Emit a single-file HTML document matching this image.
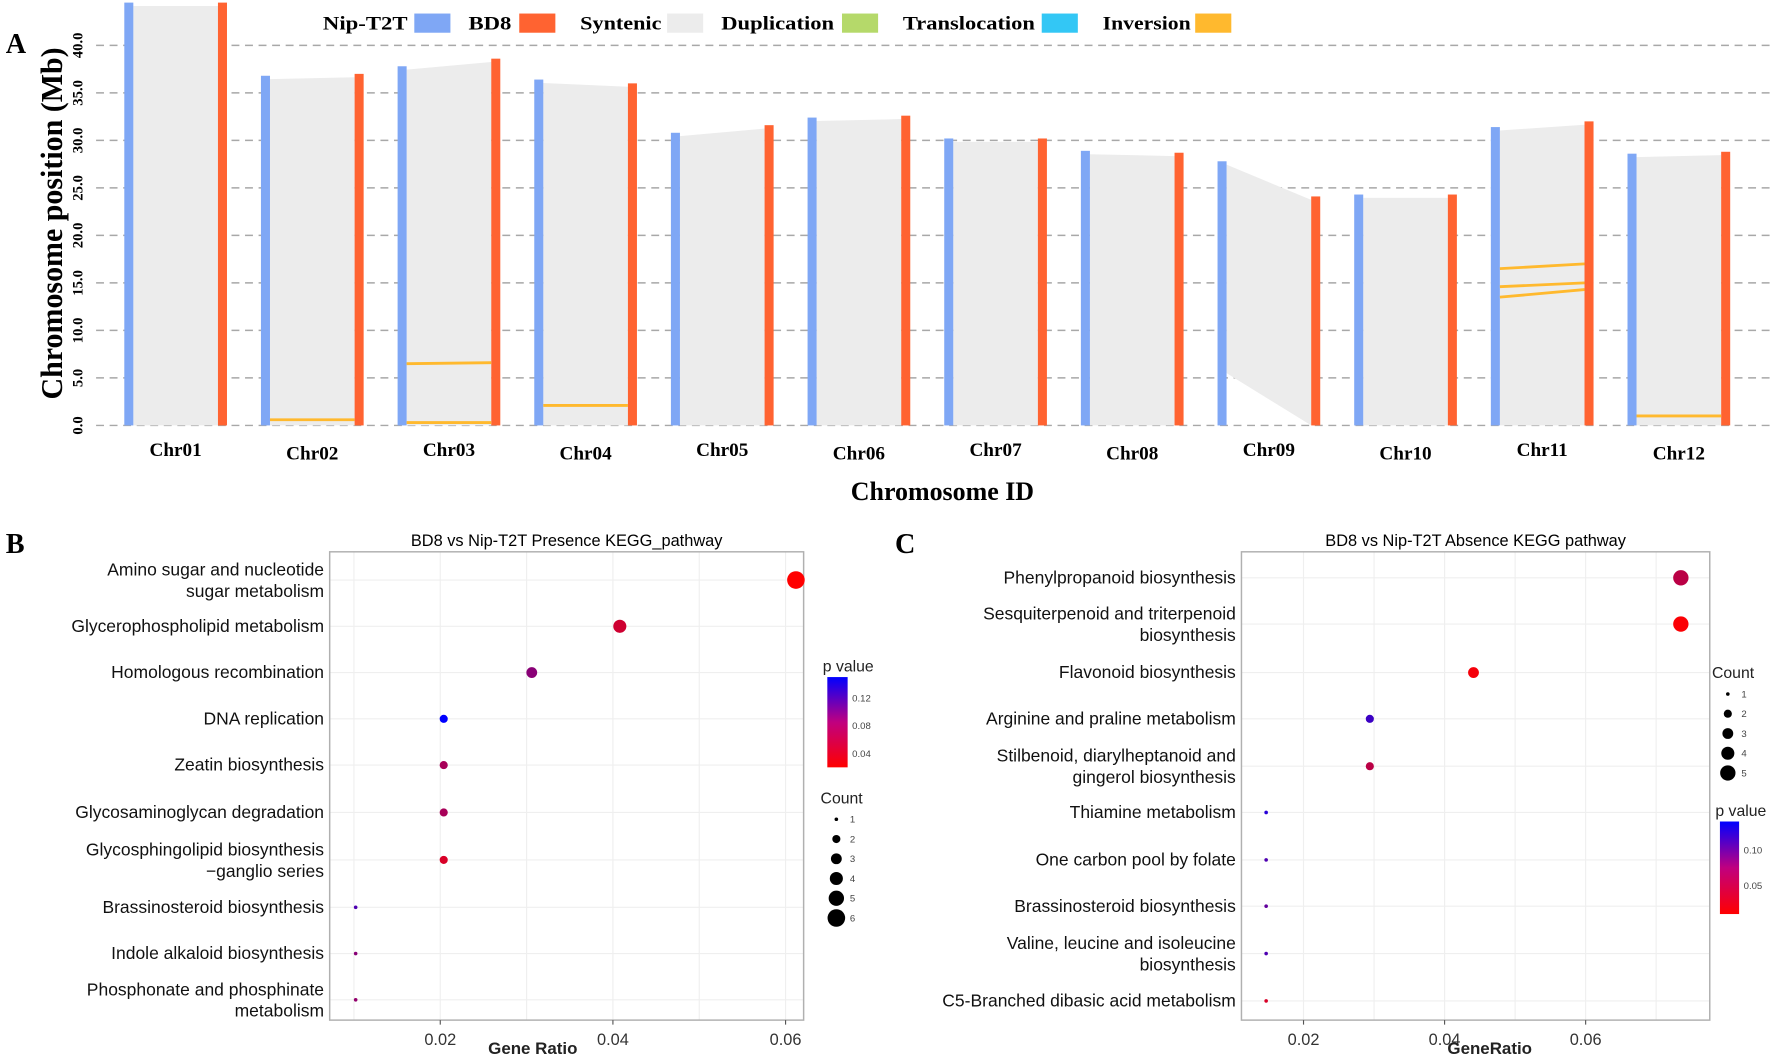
<!DOCTYPE html>
<html><head><meta charset="utf-8"><style>
html,body{margin:0;padding:0;background:#fff;}
svg{display:block;}
.serif{font-family:"Liberation Serif",serif;font-weight:bold;}
.sans{font-family:"Liberation Sans",sans-serif;}
</style></head><body>
<svg id="fig" width="1772" height="1063" viewBox="0 0 1570 942" xmlns="http://www.w3.org/2000/svg">
<g id="panelA"></g>
<g id="panelB"></g>
<g id="panelC"></g>
</svg>
<script>
// ---------- Panel A data ----------
const chromosomes = ["Chr01","Chr02","Chr03","Chr04","Chr05","Chr06","Chr07","Chr08","Chr09","Chr10","Chr11","Chr12"];
const nipLength = [44.5,36.8,37.8,36.4,30.8,32.4,30.2,28.9,27.8,24.3,31.4,28.6];
const bd8Length = [44.5,37.0,38.6,36.0,31.6,32.6,30.2,28.7,24.1,24.3,32.0,28.8];
const nipSynStart = [0,0,0,0,0,0,0,0,5.5,0,0,0];
const yTicksA = [0,5,10,15,20,25,30,35,40];
const inversionChr = [2,2,3,10,10,10,11,1];
const inversionNip = [6.5,0.3,2.1,16.5,14.6,13.5,1.0,0.6];
const inversionBd8 = [6.6,0.3,2.1,17.0,15.0,14.3,1.0,0.6];
const legendLabels = ["Nip-T2T","BD8","Syntenic","Duplication","Translocation","Inversion"];
const legendColors = ["#7fa7f5","#ff6331","#ececec","#b5d96a","#33c7f5","#ffb92e"];

// ---------- Panel B data ----------
const bTerms = [["Amino sugar and nucleotide","sugar metabolism"],["Glycerophospholipid metabolism"],["Homologous recombination"],["DNA replication"],["Zeatin biosynthesis"],["Glycosaminoglycan degradation"],["Glycosphingolipid biosynthesis","\u2212ganglio series"],["Brassinosteroid biosynthesis"],["Indole alkaloid biosynthesis"],["Phosphonate and phosphinate","metabolism"]];
const bRatio = [0.0612,0.0408,0.0306,0.0204,0.0204,0.0204,0.0204,0.0102,0.0102,0.0102];
const bCount = [6,4,3,2,2,2,2,1,1,1];
const bPval = [0.02,0.045,0.08,0.15,0.065,0.065,0.04,0.11,0.08,0.075];
const bXTicks = [0.02,0.04,0.06];
const bPTicks = [0.04,0.08,0.12];
const bCountTicks = [1,2,3,4,5,6];

// ---------- Panel C data ----------
const cTerms = [["Phenylpropanoid biosynthesis"],["Sesquiterpenoid and triterpenoid","biosynthesis"],["Flavonoid biosynthesis"],["Arginine and praline metabolism"],["Stilbenoid, diarylheptanoid and","gingerol biosynthesis"],["Thiamine metabolism"],["One carbon pool by folate"],["Brassinosteroid biosynthesis"],["Valine, leucine and isoleucine","biosynthesis"],["C5-Branched dibasic acid metabolism"]];
const cRatio = [0.0735,0.0735,0.0441,0.0294,0.0294,0.0147,0.0147,0.0147,0.0147,0.0147];
const cCount = [5,5,3,2,2,1,1,1,1,1];
const cPval = [0.045,0.012,0.015,0.11,0.045,0.12,0.1,0.09,0.1,0.03];
const cXTicks = [0.02,0.04,0.06];
const cPTicks = [0.05,0.10];
const cCountTicks = [1,2,3,4,5];

const NS="http://www.w3.org/2000/svg";
function mk(parent,tag,attrs,text){const e=document.createElementNS(NS,tag);for(const k in attrs)e.setAttribute(k,attrs[k]);if(text!==undefined)e.textContent=text;parent.appendChild(e);return e;}

// ---------- Panel A ----------
(function(){
  const g=document.getElementById('panelA');
  const yA=v=>377-v*8.42;
  const bx=i=>114+i*121.1, ox=i=>bx(i)+83;
  let t=mk(g,'text',{x:5,y:47,'font-size':25,class:'serif'},'A');
  
  
  t=mk(g,'text',{x:0,y:0,'font-size':27,class:'serif','text-anchor':'middle',textLength:312,lengthAdjust:'spacingAndGlyphs',transform:'translate(55,198) rotate(-90)'},'Chromosome position (Mb)');
  
  
  t=mk(g,'text',{x:835,y:443,'font-size':23,class:'serif','text-anchor':'middle'},'Chromosome ID');
  
  
  yTicksA.forEach(v=>{
    const l=mk(g,'line',{x1:85,x2:1570,y1:yA(v),y2:yA(v),stroke:'#a8a8a8','stroke-width':1.3,'stroke-dasharray':'7,5'});
    
    
    const tk=mk(g,'text',{x:0,y:0,'font-size':13,class:'serif','text-anchor':'middle',transform:`translate(73,${yA(v)}) rotate(-90)`},v.toFixed(1));
    
    
  });
  chromosomes.forEach((c,i)=>{
    const p=mk(g,'polygon',{points:`${bx(i)+4},${yA(nipLength[i])+3} ${ox(i)-4},${yA(bd8Length[i])+3} ${ox(i)-4},${yA(0)} ${bx(i)+4},${yA(nipSynStart[i])}`,fill:'#ececec'});
    
    
    const b=mk(g,'rect',{x:bx(i)-4,y:yA(nipLength[i]),width:8,height:yA(0)-yA(nipLength[i]),fill:'#7fa7f5'});
    
    
    const o=mk(g,'rect',{x:ox(i)-4,y:yA(bd8Length[i]),width:8,height:yA(0)-yA(bd8Length[i]),fill:'#ff6331'});
    
    
    const lb=mk(g,'text',{x:(bx(i)+ox(i))/2,y:i%2?407:404,'font-size':17,class:'serif','text-anchor':'middle'},c);
    
    
  });
  inversionChr.forEach((ci,k)=>{
    const l=mk(g,'line',{x1:bx(ci)+4,x2:ox(ci)-4,y1:yA(inversionNip[k]),y2:yA(inversionBd8[k]),stroke:'#ffb92e','stroke-width':2.5});
    
    
  });
  const lx=[286,415,514,639,800,977];
  const lw=[75,38,72,100,117,78];
  const bxs=[367,460,591,746,923,1059];
  legendLabels.forEach((s,i)=>{
    const tt=mk(g,'text',{x:lx[i],y:26,'font-size':17,class:'serif',textLength:lw[i],lengthAdjust:'spacingAndGlyphs'},s);
    
    
    const r=mk(g,'rect',{x:bxs[i],y:12,width:32,height:17,fill:legendColors[i]});
    
    
  });
})();

// ---------- Dot plots ----------
function pColor(p,lo,hi){let f=Math.max(0,Math.min(1,(p-lo)/(hi-lo)));return `rgb(${Math.round(255*(1-f))},0,${Math.round(255*f)})`;}
function rad(c){return [0,1.6,3.6,4.8,5.8,6.8,7.8][c];}
function dotPlot(g,o){
  const X=v=>o.x0+(v-o.v0)*o.k;
  const Y=i=>o.rows[i];
  let t=mk(g,'text',{x:o.letterX,y:490,'font-size':25,class:'serif'},o.letter);
  
  
  t=mk(g,'text',{x:(o.left+o.right)/2,y:484,'font-size':14.5,class:'sans','text-anchor':'middle'},o.title);
  
  
  o.rows.forEach(y=>{const l=mk(g,'line',{x1:o.left,x2:o.right,y1:y,y2:y,stroke:'#efefef','stroke-width':1});});
  for(let v=o.v0-0.01;v<0.08;v+=0.01){const x=X(v);if(x>o.left&&x<o.right){const l=mk(g,'line',{x1:x,x2:x,y1:o.top,y2:o.bottom,stroke:'#efefef','stroke-width':1});}}
  const fr=mk(g,'rect',{x:o.left,y:o.top,width:o.right-o.left,height:o.bottom-o.top,fill:'none',stroke:'#b0b0b0','stroke-width':1.3});
  
  
  o.ticks.forEach(v=>{
    const l=mk(g,'line',{x1:X(v),x2:X(v),y1:o.bottom,y2:o.bottom+4,stroke:'#555'});
    
    
    const tt=mk(g,'text',{x:X(v),y:o.bottom+22,'font-size':14.5,class:'sans','text-anchor':'middle',fill:'#333'},v.toFixed(2));
    
    
  });
  t=mk(g,'text',{x:o.xtitleX,y:o.bottom+30,'font-size':15,class:'sans','font-weight':'bold','text-anchor':'middle',fill:'#222'},o.xtitle);
  
  
  o.terms.forEach((lines,i)=>{
    const tt=mk(g,'text',{x:o.left-5,y:Y(i)+5-(lines.length-1)*9,'font-size':15.5,class:'sans','text-anchor':'end',fill:'#111'});
    lines.forEach((s,j)=>mk(tt,'tspan',{x:o.left-5,dy:j?19:0},s));
    
    
    const c=mk(g,'circle',{cx:X(o.ratio[i]),cy:Y(i),r:rad(o.count[i]),fill:pColor(o.pval[i],o.pLo,o.pHi)});
    
    
  });
  const gid='grad'+o.letter;
  const defs=mk(g,'defs',{});
  const lg=mk(defs,'linearGradient',{id:gid,x1:0,y1:1,x2:0,y2:0});
  mk(lg,'stop',{offset:'0%','stop-color':'#ff0000'});
  mk(lg,'stop',{offset:'50%','stop-color':'#c0007f'});
  mk(lg,'stop',{offset:'100%','stop-color':'#0000ff'});
  t=mk(g,'text',{x:o.pl.x-4,y:o.pl.y-5,'font-size':14,class:'sans',fill:'#222'},'p value');
  
  
  const cb=mk(g,'rect',{x:o.pl.x,y:o.pl.y,width:o.pl.w,height:o.pl.h,fill:`url(#${gid})`});
  
  
  o.pTicks.forEach(v=>{
    const y=o.pl.y+o.pl.h*(1-(v-o.pLo)/(o.pHi-o.pLo));
    const tt=mk(g,'text',{x:o.pl.x+o.pl.w+4,y:y+3,'font-size':8.5,class:'sans',fill:'#444'},v.toFixed(2));
    
    
  });
  t=mk(g,'text',{x:o.cl.x-6,y:o.cl.y,'font-size':14,class:'sans',fill:'#222'},'Count');
  
  
  o.countTicks.forEach((c,i)=>{
    const y=o.cl.y+14+i*17.5;
    const cc=mk(g,'circle',{cx:o.cl.x+8,cy:y,r:rad(c),fill:'#000'});
    
    
    const tt=mk(g,'text',{x:o.cl.x+20,y:y+3,'font-size':8.5,class:'sans',fill:'#444'},String(c));
    
    
  });
}
dotPlot(document.getElementById('panelB'),{letter:'B',letterX:5,title:'BD8 vs Nip-T2T Presence KEGG_pathway',left:292,right:712,top:489,bottom:904,
  rows:[514,555,596,637,678,720,762,804,845,886],x0:390,v0:0.02,k:7650,ticks:bXTicks,xtitle:'Gene Ratio',xtitleX:472,
  terms:bTerms,ratio:bRatio,count:bCount,pval:bPval,pLo:0.02,pHi:0.15,pTicks:bPTicks,pl:{x:733,y:600,w:18,h:80},cl:{x:733,y:712},countTicks:bCountTicks});
dotPlot(document.getElementById('panelC'),{letter:'C',letterX:793,title:'BD8 vs Nip-T2T Absence KEGG pathway',left:1100,right:1515,top:489,bottom:904,
  rows:[512,553,596,637,679,720,762,803,845,887],x0:1155,v0:0.02,k:6250,ticks:cXTicks,xtitle:'GeneRatio',xtitleX:1320,
  terms:cTerms,ratio:cRatio,count:cCount,pval:cPval,pLo:0.01,pHi:0.14,pTicks:cPTicks,pl:{x:1524,y:728,w:17,h:82},cl:{x:1523,y:601},countTicks:cCountTicks});
</script>
</body></html>
